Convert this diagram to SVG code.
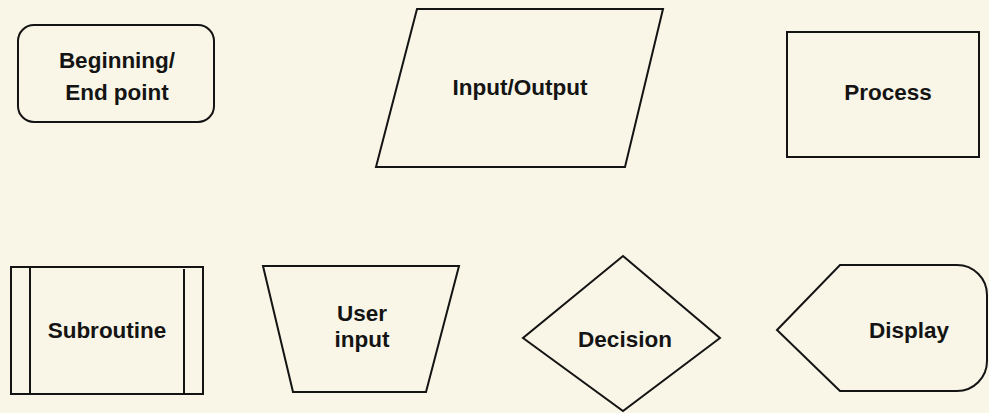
<svg xmlns="http://www.w3.org/2000/svg" width="989" height="413" viewBox="0 0 989 413">
<style>
.bg{fill:#f9f6e7}
.s{fill:none;stroke:#141414;stroke-width:2;stroke-linejoin:miter}
.t{font-family:"Liberation Sans",Arial,sans-serif;font-weight:bold;font-size:22.5px;fill:#141414;text-anchor:middle}
</style>
<rect class="bg" x="0" y="0" width="989" height="413"/>
<g id="beginning-end">
<rect class="s" x="18" y="25" width="196" height="97" rx="16" ry="16"/>
<text class="t" x="117" y="68">Beginning/</text>
<text class="t" x="117" y="100">End point</text>
</g>
<g id="input-output">
<polygon class="s" points="417,9 663,9 625,167 376,167"/>
<text class="t" x="520" y="95">Input/Output</text>
</g>
<g id="process">
<rect class="s" x="787" y="32" width="192" height="125"/>
<text class="t" x="888" y="100">Process</text>
</g>
<g id="subroutine">
<rect class="s" x="11" y="267" width="192" height="127"/>
<line class="s" x1="30" y1="267" x2="30" y2="394"/>
<line class="s" x1="184" y1="269" x2="184" y2="394"/>
<text class="t" x="107" y="338">Subroutine</text>
</g>
<g id="user-input">
<polygon class="s" points="263,266 459,266 426,392 293,392"/>
<text class="t" x="362" y="321">User</text>
<text class="t" x="362" y="347">input</text>
</g>
<g id="decision">
<polygon class="s" points="623,256 720,338 623,411 523,338"/>
<text class="t" x="625" y="347">Decision</text>
</g>
<g id="display">
<path class="s" d="M777,330 L840,265 L957,265 A30,30 0 0 1 987,295 L987,361 A30,30 0 0 1 957,391 L840,391 Z"/>
<text class="t" x="909" y="338">Display</text>
</g>
<g id="connectors"></g>
</svg>
